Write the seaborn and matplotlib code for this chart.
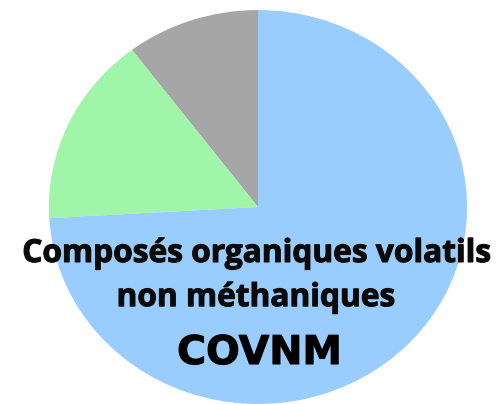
import matplotlib
matplotlib.use("Agg")
import matplotlib.pyplot as plt
import matplotlib.patheffects as pe
import seaborn as sns

# Data (counter-clockwise from 12 o'clock going left)
categories = ["Autres", "Secteur B", "COVNM"]
shares = [10.3, 15.6, 74.1]
colors_hex = ["#A6A6A6", "#A0F5A8", "#99CCFF"]
label_line1 = "Composés organiques volatils"
label_line2 = "non méthaniques"
label_abbr = "COVNM"

sns.set_theme(style="white")
palette = sns.color_palette(colors_hex)

fig = plt.figure(figsize=(4.98, 4.04), dpi=100)
ax = fig.add_axes([0, 0, 1, 1])
ax.pie(shares, colors=palette, startangle=90, counterclock=True,
       wedgeprops=dict(linewidth=0))
ax.set_aspect("auto")
ax.set_xlim(-1.234, 1.148)
ax.set_ylim(-1.0, 1.051)
ax.axis("off")

stroke = [pe.withStroke(linewidth=0.8, foreground="#1a1208")]
ax.text(-0.007, -0.279, label_line1, ha="center", va="baseline",
        fontsize=22.8, family=["Open Sans", "DejaVu Sans"], fontweight="bold",
        color="#0a0a0a", path_effects=stroke)
ax.text(-0.01, -0.503, label_line2, ha="center", va="baseline",
        fontsize=22.8, family=["Open Sans", "DejaVu Sans"], fontweight="bold",
        color="#0a0a0a", path_effects=stroke)
ax.text(0.007, -0.797, label_abbr, ha="center", va="baseline",
        fontsize=28.5, family=["DejaVu Sans"], fontweight="bold", color="#000000",
        path_effects=stroke)

fig.savefig("out.png", dpi=100)
